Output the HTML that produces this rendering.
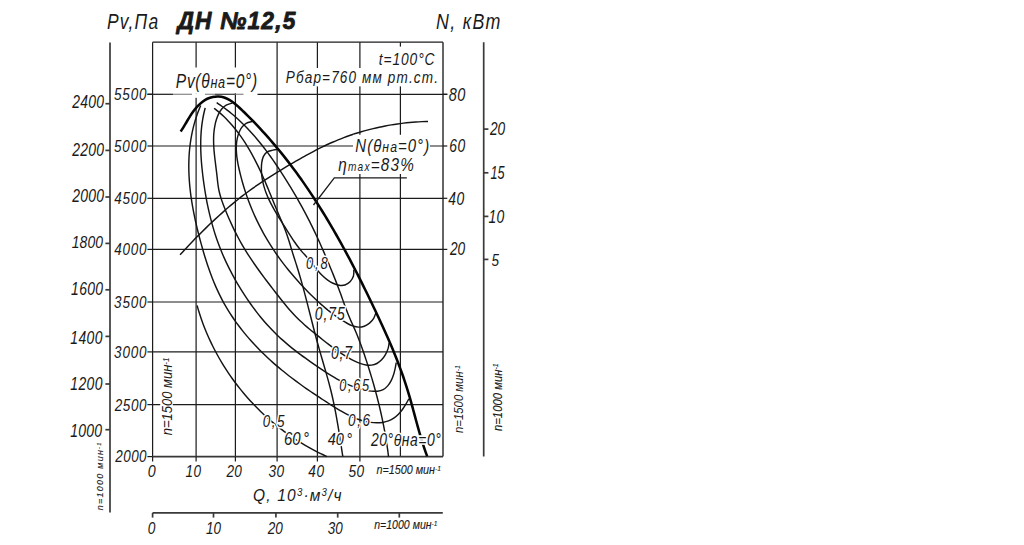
<!DOCTYPE html>
<html><head><meta charset="utf-8"><style>
html,body{margin:0;padding:0;background:#fff;width:1024px;height:545px;overflow:hidden}
svg{display:block}
text{font-family:"Liberation Sans", sans-serif;font-style:italic;fill:#1a1a1a}
</style></head><body>
<svg width="1024" height="545" viewBox="0 0 1024 545">
<g stroke="#1c1c1c" stroke-width="1.22" fill="none"><line x1="152.6" y1="42.2" x2="152.6" y2="456.6"/><line x1="196.1" y1="42.2" x2="196.1" y2="456.6"/><line x1="235.4" y1="42.2" x2="235.4" y2="456.6"/><line x1="277.1" y1="42.2" x2="277.1" y2="456.6"/><line x1="317.4" y1="42.2" x2="317.4" y2="456.6"/><line x1="359.9" y1="42.2" x2="359.9" y2="456.6"/><line x1="400.4" y1="42.2" x2="400.4" y2="456.6"/><line x1="443.0" y1="42.2" x2="443.0" y2="456.6" stroke="#383838" stroke-width="1.55"/><line x1="152.6" y1="42.2" x2="443.0" y2="42.2"/><line x1="152.6" y1="146.0" x2="443.0" y2="146.0"/><line x1="152.6" y1="198.3" x2="443.0" y2="198.3"/><line x1="152.6" y1="249.4" x2="443.0" y2="249.4"/><line x1="152.6" y1="302.0" x2="443.0" y2="302.0"/><line x1="152.6" y1="351.9" x2="443.0" y2="351.9"/><line x1="152.6" y1="404.6" x2="443.0" y2="404.6"/><line x1="152.6" y1="456.6" x2="443.0" y2="456.6" stroke="#383838" stroke-width="1.6"/><line x1="152.6" y1="456.6" x2="152.6" y2="461.5"/><line x1="196.1" y1="456.6" x2="196.1" y2="461.5"/><line x1="235.4" y1="456.6" x2="235.4" y2="461.5"/><line x1="277.1" y1="456.6" x2="277.1" y2="461.5"/><line x1="317.4" y1="456.6" x2="317.4" y2="461.5"/><line x1="359.9" y1="456.6" x2="359.9" y2="461.5"/><line x1="147.4" y1="94.3" x2="152.6" y2="94.3"/><line x1="147.4" y1="146.0" x2="152.6" y2="146.0"/><line x1="147.4" y1="198.3" x2="152.6" y2="198.3"/><line x1="147.4" y1="249.4" x2="152.6" y2="249.4"/><line x1="147.4" y1="302.0" x2="152.6" y2="302.0"/><line x1="147.4" y1="351.9" x2="152.6" y2="351.9"/><line x1="147.4" y1="404.6" x2="152.6" y2="404.6"/><line x1="147.4" y1="456.6" x2="152.6" y2="456.6"/><line x1="443.0" y1="94.3" x2="447.3" y2="94.3"/><line x1="443.0" y1="146.0" x2="447.3" y2="146.0"/><line x1="443.0" y1="198.3" x2="447.3" y2="198.3"/><line x1="443.0" y1="249.4" x2="447.3" y2="249.4"/></g>
<g stroke="#3a3a3a" stroke-width="1.7" fill="none"><line x1="110" y1="42.4" x2="110" y2="512.4"/><line x1="105.4" y1="103.7" x2="110" y2="103.7"/><line x1="105.4" y1="150.4" x2="110" y2="150.4"/><line x1="105.4" y1="197.0" x2="110" y2="197.0"/><line x1="105.4" y1="243.4" x2="110" y2="243.4"/><line x1="105.4" y1="289.8" x2="110" y2="289.8"/><line x1="105.4" y1="336.4" x2="110" y2="336.4"/><line x1="105.4" y1="384.0" x2="110" y2="384.0"/><line x1="105.4" y1="429.7" x2="110" y2="429.7"/><line x1="483.7" y1="42.2" x2="483.7" y2="456.6"/><line x1="483.7" y1="129.1" x2="488.4" y2="129.1"/><line x1="483.7" y1="172.8" x2="488.4" y2="172.8"/><line x1="483.7" y1="216.4" x2="488.4" y2="216.4"/><line x1="483.7" y1="259.4" x2="488.4" y2="259.4"/><line x1="152.6" y1="512.9" x2="442.8" y2="512.9"/><line x1="152.6" y1="512.9" x2="152.6" y2="517.6"/><line x1="213.5" y1="512.9" x2="213.5" y2="517.6"/><line x1="275.9" y1="512.9" x2="275.9" y2="517.6"/><line x1="337.7" y1="512.9" x2="337.7" y2="517.6"/><line x1="399.3" y1="512.9" x2="399.3" y2="517.6"/></g>
<g stroke="#141414" stroke-width="1.45" fill="none"><path d="M180.04,254.76 C180.74,254.01 182.83,251.75 184.24,250.24 C185.64,248.74 187.05,247.24 188.47,245.75 C189.88,244.26 191.31,242.77 192.73,241.29 C194.16,239.81 195.59,238.33 197.04,236.86 C198.48,235.39 199.92,233.93 201.38,232.47 C202.83,231.02 204.29,229.57 205.76,228.13 C207.23,226.70 208.71,225.27 210.20,223.85 C211.68,222.43 213.18,221.01 214.68,219.61 C216.18,218.21 217.69,216.82 219.21,215.44 C220.73,214.06 222.26,212.69 223.80,211.34 C225.34,209.98 226.89,208.64 228.45,207.30 C230.01,205.97 231.57,204.65 233.15,203.35 C234.73,202.04 236.32,200.75 237.92,199.47 C239.52,198.20 241.14,196.93 242.76,195.69 C244.38,194.44 246.02,193.21 247.66,191.99 C249.31,190.78 250.97,189.58 252.64,188.39 C254.31,187.21 255.99,186.04 257.69,184.89 C259.38,183.73 261.08,182.60 262.79,181.47 C264.50,180.34 266.22,179.22 267.95,178.11 C269.67,177.00 271.41,175.90 273.14,174.81 C274.88,173.72 276.63,172.64 278.38,171.56 C280.13,170.49 281.88,169.42 283.65,168.36 C285.41,167.30 287.17,166.25 288.94,165.21 C290.72,164.16 292.49,163.13 294.27,162.10 C296.05,161.07 297.84,160.05 299.62,159.04 C301.41,158.02 303.20,157.02 305.00,156.02 C306.80,155.03 308.60,154.04 310.41,153.07 C312.22,152.10 314.03,151.14 315.85,150.19 C317.67,149.25 319.50,148.32 321.33,147.42 C323.17,146.51 325.01,145.62 326.87,144.76 C328.72,143.89 330.59,143.05 332.46,142.23 C334.33,141.41 336.21,140.61 338.10,139.84 C339.99,139.07 341.90,138.32 343.81,137.59 C345.72,136.87 347.64,136.17 349.57,135.50 C351.50,134.83 353.44,134.18 355.39,133.56 C357.35,132.94 359.31,132.35 361.27,131.78 C363.24,131.21 365.22,130.66 367.20,130.14 C369.19,129.61 371.18,129.11 373.18,128.63 C375.17,128.14 377.18,127.68 379.19,127.24 C381.19,126.80 383.21,126.39 385.23,125.99 C387.24,125.60 389.27,125.23 391.29,124.89 C393.32,124.54 395.35,124.22 397.38,123.92 C399.42,123.62 401.45,123.35 403.49,123.11 C405.53,122.86 407.57,122.64 409.61,122.45 C411.65,122.25 413.69,122.09 415.74,121.95 C417.78,121.81 419.82,121.70 421.86,121.61 C423.91,121.53 426.97,121.48 427.99,121.45"/><path d="M200.71,105.47 C200.31,106.44 199.07,109.36 198.33,111.32 C197.59,113.27 196.90,115.23 196.25,117.20 C195.60,119.16 195.00,121.13 194.44,123.11 C193.89,125.09 193.38,127.07 192.91,129.05 C192.45,131.04 192.02,133.03 191.64,135.03 C191.26,137.02 190.92,139.02 190.62,141.02 C190.32,143.02 190.06,145.03 189.83,147.04 C189.61,149.04 189.43,151.05 189.28,153.07 C189.13,155.08 189.02,157.10 188.94,159.12 C188.86,161.13 188.82,163.15 188.81,165.18 C188.79,167.20 188.82,169.22 188.87,171.24 C188.92,173.27 189.01,175.29 189.12,177.32 C189.23,179.34 189.38,181.37 189.55,183.39 C189.71,185.42 189.91,187.45 190.14,189.47 C190.36,191.50 190.61,193.52 190.88,195.54 C191.15,197.57 191.45,199.59 191.77,201.61 C192.08,203.63 192.43,205.65 192.79,207.67 C193.15,209.69 193.53,211.70 193.93,213.72 C194.33,215.73 194.75,217.74 195.18,219.75 C195.62,221.75 196.07,223.76 196.54,225.76 C197.01,227.76 197.49,229.76 197.99,231.75 C198.48,233.74 198.99,235.73 199.51,237.72 C200.03,239.70 200.56,241.68 201.11,243.66 C201.65,245.63 202.20,247.60 202.77,249.57 C203.33,251.53 203.91,253.49 204.50,255.44 C205.09,257.39 205.70,259.34 206.32,261.27 C206.94,263.21 207.58,265.14 208.24,267.06 C208.90,268.98 209.57,270.89 210.27,272.80 C210.97,274.70 211.68,276.59 212.42,278.48 C213.16,280.36 213.92,282.24 214.71,284.10 C215.50,285.96 216.31,287.81 217.15,289.65 C217.99,291.49 218.86,293.32 219.75,295.13 C220.65,296.95 221.57,298.75 222.53,300.54 C223.48,302.33 224.47,304.11 225.49,305.87 C226.50,307.63 227.55,309.38 228.63,311.11 C229.71,312.84 230.82,314.56 231.95,316.26 C233.08,317.96 234.24,319.65 235.43,321.32 C236.62,322.99 237.83,324.64 239.07,326.28 C240.30,327.92 241.56,329.54 242.84,331.14 C244.13,332.75 245.43,334.33 246.75,335.90 C248.08,337.47 249.42,339.02 250.79,340.56 C252.15,342.09 253.53,343.60 254.93,345.10 C256.33,346.59 257.74,348.07 259.17,349.53 C260.60,350.98 262.05,352.42 263.51,353.84 C264.97,355.26 266.44,356.66 267.93,358.04 C269.42,359.42 270.92,360.78 272.43,362.12 C273.94,363.47 275.47,364.80 277.01,366.11 C278.54,367.42 280.10,368.72 281.66,370.00 C283.22,371.28 284.80,372.55 286.38,373.80 C287.97,375.06 289.56,376.30 291.17,377.53 C292.78,378.75 294.40,379.97 296.03,381.18 C297.66,382.38 299.30,383.57 300.95,384.76 C302.60,385.94 304.26,387.12 305.93,388.28 C307.60,389.45 309.28,390.61 310.96,391.76 C312.65,392.91 314.35,394.05 316.05,395.18 C317.75,396.32 319.47,397.45 321.19,398.57 C322.91,399.70 324.64,400.82 326.37,401.93 C328.11,403.05 329.85,404.16 331.60,405.27 C333.35,406.37 335.11,407.48 336.88,408.56 C338.65,409.64 340.43,410.71 342.22,411.73 C344.01,412.74 345.82,413.74 347.64,414.67 C349.47,415.60 351.31,416.50 353.17,417.31 C355.03,418.12 356.91,418.87 358.81,419.53 C360.72,420.19 362.64,420.78 364.59,421.26 C366.55,421.74 368.53,422.13 370.54,422.40 C372.54,422.66 374.60,422.83 376.63,422.84 C378.66,422.84 380.73,422.73 382.71,422.42 C384.69,422.10 386.67,421.64 388.52,420.94 C390.36,420.24 392.14,419.33 393.79,418.22 C395.44,417.11 396.97,415.74 398.41,414.29 C399.85,412.83 401.17,411.17 402.42,409.49 C403.66,407.81 404.81,405.99 405.88,404.22 C406.96,402.44 408.37,399.72 408.87,398.83"/><path d="M205.19,107.94 C204.94,108.95 204.16,111.98 203.72,114.01 C203.29,116.03 202.91,118.06 202.58,120.09 C202.24,122.12 201.96,124.16 201.72,126.20 C201.49,128.24 201.30,130.28 201.14,132.32 C200.99,134.37 200.89,136.42 200.81,138.46 C200.74,140.51 200.71,142.56 200.71,144.62 C200.71,146.67 200.75,148.72 200.81,150.78 C200.87,152.83 200.97,154.89 201.09,156.95 C201.21,159.00 201.36,161.06 201.53,163.12 C201.70,165.17 201.90,167.23 202.11,169.29 C202.32,171.34 202.56,173.40 202.80,175.46 C203.05,177.51 203.31,179.57 203.59,181.62 C203.87,183.67 204.16,185.72 204.47,187.77 C204.79,189.82 205.12,191.86 205.46,193.90 C205.81,195.95 206.17,197.99 206.56,200.02 C206.94,202.05 207.34,204.08 207.77,206.11 C208.19,208.13 208.63,210.15 209.10,212.16 C209.56,214.18 210.04,216.18 210.55,218.18 C211.06,220.18 211.58,222.18 212.13,224.16 C212.68,226.14 213.26,228.12 213.85,230.09 C214.45,232.06 215.07,234.02 215.71,235.97 C216.35,237.92 217.02,239.86 217.72,241.79 C218.41,243.72 219.13,245.64 219.87,247.55 C220.62,249.46 221.39,251.35 222.18,253.24 C222.97,255.13 223.79,257.01 224.63,258.87 C225.47,260.74 226.34,262.60 227.23,264.44 C228.12,266.29 229.03,268.13 229.96,269.95 C230.90,271.78 231.86,273.60 232.84,275.40 C233.81,277.21 234.82,279.01 235.84,280.79 C236.86,282.58 237.90,284.36 238.97,286.12 C240.03,287.89 241.12,289.65 242.22,291.40 C243.33,293.15 244.45,294.89 245.60,296.61 C246.74,298.34 247.91,300.06 249.09,301.76 C250.28,303.47 251.49,305.16 252.71,306.83 C253.94,308.51 255.18,310.17 256.45,311.82 C257.72,313.46 259.00,315.09 260.31,316.70 C261.62,318.30 262.95,319.89 264.30,321.46 C265.65,323.03 267.02,324.58 268.41,326.10 C269.80,327.62 271.21,329.12 272.65,330.60 C274.08,332.07 275.53,333.52 277.01,334.94 C278.48,336.36 279.98,337.76 281.50,339.13 C283.01,340.50 284.55,341.84 286.10,343.17 C287.66,344.49 289.23,345.79 290.82,347.08 C292.41,348.36 294.01,349.63 295.63,350.88 C297.25,352.13 298.89,353.36 300.53,354.58 C302.18,355.81 303.84,357.01 305.51,358.21 C307.18,359.41 308.87,360.60 310.56,361.79 C312.25,362.97 313.96,364.14 315.67,365.32 C317.38,366.49 319.09,367.66 320.82,368.82 C322.55,369.98 324.28,371.14 326.03,372.27 C327.78,373.40 329.54,374.52 331.31,375.60 C333.09,376.68 334.87,377.75 336.68,378.77 C338.48,379.78 340.30,380.77 342.14,381.71 C343.98,382.64 345.84,383.54 347.72,384.37 C349.60,385.20 351.50,385.98 353.42,386.69 C355.34,387.40 357.29,388.06 359.26,388.63 C361.23,389.20 363.23,389.71 365.26,390.12 C367.28,390.54 369.37,390.93 371.41,391.11 C373.46,391.29 375.58,391.46 377.53,391.21 C379.48,390.96 381.40,390.49 383.10,389.60 C384.79,388.71 386.35,387.38 387.70,385.87 C389.04,384.37 390.18,382.48 391.17,380.57 C392.16,378.66 392.95,376.48 393.62,374.41 C394.30,372.34 394.81,370.12 395.24,368.14 C395.67,366.16 396.04,363.46 396.20,362.53"/><path d="M232.32,102.99 C231.30,103.34 227.97,104.13 226.20,105.13 C224.43,106.14 222.98,107.52 221.70,109.02 C220.42,110.52 219.41,112.30 218.51,114.11 C217.61,115.91 216.93,117.90 216.32,119.84 C215.71,121.79 215.25,123.78 214.86,125.77 C214.47,127.76 214.19,129.77 213.99,131.78 C213.78,133.80 213.67,135.82 213.62,137.86 C213.56,139.89 213.59,141.93 213.66,143.97 C213.73,146.01 213.86,148.07 214.02,150.12 C214.18,152.16 214.39,154.22 214.62,156.27 C214.84,158.32 215.09,160.37 215.35,162.42 C215.60,164.46 215.87,166.51 216.12,168.54 C216.38,170.57 216.63,172.60 216.86,174.62 C217.09,176.64 217.27,178.65 217.50,180.65 C217.73,182.65 217.94,184.64 218.26,186.62 C218.58,188.60 218.95,190.57 219.42,192.54 C219.90,194.50 220.47,196.46 221.09,198.40 C221.71,200.35 222.41,202.29 223.13,204.22 C223.85,206.14 224.62,208.06 225.39,209.97 C226.16,211.88 226.95,213.78 227.75,215.66 C228.55,217.55 229.37,219.42 230.20,221.29 C231.04,223.15 231.89,225.00 232.76,226.85 C233.63,228.69 234.52,230.52 235.44,232.33 C236.35,234.15 237.28,235.95 238.24,237.75 C239.19,239.54 240.17,241.32 241.17,243.09 C242.18,244.85 243.20,246.61 244.25,248.35 C245.30,250.09 246.37,251.82 247.46,253.54 C248.55,255.26 249.67,256.97 250.79,258.67 C251.92,260.37 253.07,262.06 254.22,263.74 C255.38,265.42 256.56,267.09 257.74,268.75 C258.93,270.41 260.13,272.07 261.34,273.71 C262.55,275.36 263.77,277.00 264.99,278.64 C266.22,280.27 267.45,281.90 268.69,283.52 C269.92,285.15 271.17,286.76 272.41,288.38 C273.66,289.99 274.91,291.60 276.15,293.21 C277.40,294.81 278.65,296.42 279.90,298.01 C281.16,299.60 282.42,301.19 283.70,302.77 C284.97,304.34 286.26,305.91 287.57,307.45 C288.88,309.00 290.21,310.53 291.56,312.04 C292.92,313.54 294.30,315.03 295.72,316.49 C297.14,317.95 298.59,319.39 300.08,320.80 C301.56,322.21 303.10,323.58 304.65,324.94 C306.20,326.29 307.78,327.62 309.37,328.94 C310.95,330.25 312.56,331.55 314.14,332.83 C315.73,334.12 317.32,335.40 318.90,336.67 C320.48,337.94 322.04,339.20 323.61,340.45 C325.18,341.70 326.74,342.94 328.33,344.16 C329.91,345.38 331.49,346.59 333.11,347.78 C334.73,348.97 336.36,350.14 338.03,351.29 C339.71,352.44 341.40,353.57 343.15,354.67 C344.90,355.77 346.69,356.85 348.53,357.89 C350.37,358.93 352.28,359.98 354.21,360.90 C356.13,361.82 358.11,362.72 360.07,363.39 C362.02,364.07 364.01,364.65 365.93,364.94 C367.85,365.23 369.77,365.36 371.60,365.12 C373.43,364.88 375.22,364.39 376.89,363.50 C378.56,362.62 380.18,361.30 381.61,359.81 C383.03,358.32 384.37,356.43 385.44,354.57 C386.52,352.71 387.45,350.59 388.06,348.64 C388.68,346.69 388.95,343.84 389.13,342.88"/><path d="M252.50,121.43 C251.44,121.75 247.92,122.31 246.12,123.31 C244.33,124.31 242.95,125.83 241.75,127.42 C240.55,129.00 239.67,130.95 238.92,132.83 C238.17,134.71 237.64,136.72 237.22,138.70 C236.80,140.69 236.56,142.70 236.41,144.73 C236.27,146.76 236.27,148.81 236.35,150.86 C236.43,152.92 236.63,155.00 236.89,157.07 C237.14,159.14 237.50,161.22 237.88,163.29 C238.26,165.36 238.72,167.44 239.19,169.49 C239.65,171.55 240.15,173.60 240.67,175.63 C241.19,177.67 241.74,179.69 242.30,181.70 C242.87,183.71 243.46,185.71 244.08,187.70 C244.69,189.68 245.33,191.66 245.99,193.62 C246.66,195.58 247.34,197.53 248.05,199.47 C248.76,201.41 249.50,203.33 250.25,205.24 C251.01,207.16 251.79,209.06 252.60,210.95 C253.40,212.84 254.23,214.72 255.08,216.58 C255.93,218.45 256.81,220.30 257.71,222.14 C258.60,223.99 259.53,225.82 260.47,227.64 C261.42,229.45 262.39,231.26 263.38,233.05 C264.37,234.85 265.39,236.63 266.43,238.40 C267.47,240.17 268.53,241.93 269.62,243.68 C270.71,245.43 271.82,247.16 272.95,248.89 C274.08,250.61 275.24,252.32 276.42,254.02 C277.60,255.72 278.81,257.41 280.03,259.09 C281.26,260.77 282.50,262.43 283.77,264.08 C285.04,265.73 286.32,267.37 287.63,269.00 C288.93,270.62 290.26,272.23 291.60,273.83 C292.94,275.42 294.29,277.00 295.66,278.57 C297.04,280.13 298.42,281.68 299.82,283.22 C301.22,284.75 302.63,286.27 304.05,287.77 C305.47,289.27 306.91,290.76 308.35,292.22 C309.79,293.69 311.24,295.14 312.71,296.57 C314.17,298.00 315.65,299.41 317.14,300.80 C318.64,302.19 320.15,303.56 321.69,304.91 C323.23,306.26 324.78,307.58 326.37,308.89 C327.96,310.19 329.57,311.47 331.21,312.72 C332.86,313.97 334.54,315.20 336.25,316.40 C337.97,317.60 339.72,318.79 341.51,319.93 C343.31,321.07 345.15,322.25 347.02,323.25 C348.89,324.25 350.81,325.26 352.72,325.91 C354.64,326.55 356.59,327.08 358.51,327.13 C360.43,327.18 362.42,326.88 364.26,326.21 C366.09,325.55 367.95,324.46 369.52,323.14 C371.09,321.82 372.58,320.14 373.69,318.30 C374.79,316.46 375.72,313.14 376.13,312.11"/><path d="M279.03,149.03 C277.99,149.22 274.86,149.64 272.82,150.15 C270.78,150.66 268.40,150.99 266.81,152.08 C265.23,153.17 264.17,154.90 263.32,156.67 C262.48,158.44 262.07,160.62 261.75,162.71 C261.42,164.80 261.36,167.06 261.37,169.22 C261.38,171.38 261.55,173.56 261.79,175.67 C262.04,177.78 262.39,179.84 262.82,181.88 C263.26,183.92 263.79,185.92 264.39,187.89 C264.99,189.87 265.68,191.81 266.43,193.73 C267.17,195.65 267.99,197.54 268.86,199.41 C269.72,201.28 270.66,203.13 271.62,204.96 C272.58,206.80 273.60,208.61 274.64,210.42 C275.68,212.23 276.76,214.02 277.85,215.80 C278.94,217.59 280.06,219.36 281.18,221.14 C282.30,222.92 283.44,224.68 284.56,226.46 C285.69,228.23 286.80,230.01 287.93,231.78 C289.05,233.55 290.16,235.32 291.29,237.07 C292.43,238.82 293.57,240.57 294.75,242.28 C295.93,243.98 297.13,245.67 298.39,247.31 C299.66,248.95 300.97,250.54 302.32,252.10 C303.66,253.67 305.11,255.15 306.47,256.71 C307.83,258.27 309.16,259.86 310.47,261.47 C311.78,263.08 313.02,264.76 314.32,266.38 C315.62,268.01 316.90,269.66 318.27,271.23 C319.64,272.80 321.03,274.36 322.55,275.81 C324.06,277.25 325.65,278.65 327.39,279.88 C329.13,281.12 331.04,282.33 332.98,283.22 C334.92,284.11 337.04,284.90 339.03,285.20 C341.02,285.50 343.08,285.56 344.92,284.99 C346.75,284.43 348.61,283.29 350.04,281.79 C351.46,280.28 352.84,277.96 353.46,275.96 C354.08,273.96 353.73,270.83 353.78,269.80"/><path d="M214.11,108.23 C214.93,108.89 217.40,110.82 218.98,112.17 C220.56,113.52 222.09,114.91 223.59,116.33 C225.08,117.75 226.54,119.21 227.95,120.70 C229.37,122.19 230.75,123.71 232.09,125.26 C233.43,126.82 234.74,128.40 236.01,130.01 C237.28,131.61 238.52,133.25 239.72,134.91 C240.93,136.57 242.10,138.26 243.24,139.96 C244.39,141.67 245.50,143.40 246.59,145.15 C247.67,146.90 248.73,148.67 249.76,150.45 C250.80,152.24 251.80,154.04 252.79,155.86 C253.77,157.67 254.73,159.51 255.67,161.35 C256.61,163.19 257.53,165.05 258.43,166.91 C259.33,168.78 260.20,170.65 261.07,172.53 C261.93,174.41 262.78,176.30 263.61,178.20 C264.44,180.09 265.25,181.98 266.06,183.88 C266.87,185.78 267.65,187.68 268.44,189.58 C269.23,191.48 270.00,193.39 270.78,195.29 C271.56,197.19 272.33,199.10 273.10,201.00 C273.88,202.90 274.65,204.80 275.44,206.69 C276.22,208.59 277.01,210.49 277.81,212.38 C278.61,214.27 279.43,216.15 280.24,218.04 C281.06,219.92 281.90,221.80 282.69,223.69 C283.49,225.59 284.28,227.48 285.02,229.39 C285.76,231.31 286.45,233.24 287.11,235.18 C287.78,237.12 288.39,239.08 289.01,241.04 C289.63,243.00 290.21,244.97 290.81,246.94 C291.41,248.91 292.01,250.88 292.62,252.85 C293.23,254.82 293.86,256.78 294.48,258.75 C295.11,260.71 295.75,262.68 296.37,264.64 C296.99,266.61 297.61,268.58 298.22,270.55 C298.82,272.52 299.41,274.50 299.99,276.48 C300.57,278.45 301.14,280.43 301.70,282.42 C302.26,284.40 302.80,286.39 303.35,288.38 C303.89,290.36 304.42,292.35 304.95,294.35 C305.47,296.34 305.99,298.33 306.51,300.32 C307.02,302.32 307.53,304.31 308.04,306.31 C308.55,308.31 309.06,310.30 309.56,312.30 C310.07,314.29 310.57,316.29 311.08,318.29 C311.59,320.28 312.09,322.28 312.60,324.28 C313.11,326.27 313.62,328.27 314.14,330.26 C314.66,332.25 315.18,334.25 315.71,336.24 C316.24,338.23 316.77,340.22 317.31,342.20 C317.86,344.19 318.41,346.17 318.97,348.16 C319.52,350.14 320.09,352.12 320.66,354.10 C321.24,356.08 321.81,358.05 322.39,360.03 C322.97,362.01 323.55,363.99 324.12,365.96 C324.70,367.94 325.27,369.92 325.84,371.90 C326.40,373.88 326.96,375.86 327.52,377.84 C328.07,379.83 328.61,381.81 329.14,383.80 C329.66,385.79 330.18,387.78 330.68,389.78 C331.18,391.78 331.66,393.78 332.12,395.78 C332.59,397.79 333.03,399.80 333.47,401.81 C333.90,403.83 334.31,405.84 334.71,407.86 C335.12,409.88 335.51,411.91 335.88,413.93 C336.26,415.96 336.63,417.98 336.98,420.01 C337.34,422.04 337.69,424.08 338.03,426.11 C338.37,428.14 338.70,430.18 339.03,432.21 C339.36,434.25 339.68,436.28 340.00,438.32 C340.32,440.35 340.63,442.39 340.95,444.42 C341.26,446.46 341.57,448.49 341.89,450.53 C342.20,452.56 342.68,455.61 342.83,456.62"/><path d="M216.66,102.71 C217.52,103.30 220.14,105.02 221.84,106.22 C223.54,107.42 225.21,108.65 226.85,109.91 C228.50,111.17 230.11,112.46 231.70,113.77 C233.29,115.08 234.85,116.43 236.39,117.79 C237.93,119.16 239.44,120.55 240.93,121.96 C242.42,123.38 243.88,124.82 245.32,126.28 C246.76,127.74 248.18,129.22 249.58,130.72 C250.98,132.23 252.35,133.75 253.71,135.29 C255.07,136.83 256.40,138.39 257.72,139.97 C259.04,141.55 260.33,143.14 261.62,144.75 C262.90,146.36 264.16,147.99 265.41,149.63 C266.65,151.27 267.88,152.92 269.10,154.59 C270.31,156.26 271.51,157.94 272.70,159.62 C273.88,161.31 275.05,163.01 276.21,164.72 C277.37,166.43 278.52,168.15 279.65,169.87 C280.78,171.60 281.91,173.33 283.02,175.07 C284.13,176.81 285.24,178.55 286.33,180.30 C287.42,182.05 288.50,183.80 289.58,185.56 C290.65,187.32 291.71,189.09 292.76,190.86 C293.82,192.63 294.86,194.41 295.89,196.19 C296.92,197.97 297.94,199.76 298.95,201.55 C299.96,203.34 300.96,205.14 301.95,206.95 C302.94,208.75 303.91,210.56 304.88,212.37 C305.85,214.19 306.80,216.01 307.75,217.84 C308.69,219.66 309.62,221.50 310.54,223.34 C311.47,225.17 312.38,227.02 313.27,228.87 C314.17,230.72 315.06,232.58 315.93,234.44 C316.81,236.30 317.67,238.17 318.52,240.04 C319.38,241.92 320.22,243.80 321.05,245.68 C321.88,247.56 322.71,249.45 323.52,251.34 C324.34,253.23 325.15,255.12 325.95,257.02 C326.76,258.92 327.55,260.82 328.35,262.72 C329.14,264.62 329.93,266.52 330.72,268.42 C331.50,270.33 332.28,272.23 333.05,274.14 C333.82,276.05 334.58,277.96 335.34,279.87 C336.09,281.79 336.84,283.71 337.57,285.63 C338.30,287.55 339.03,289.48 339.74,291.41 C340.44,293.34 341.14,295.28 341.83,297.21 C342.52,299.15 343.20,301.09 343.89,303.03 C344.59,304.96 345.28,306.89 346.00,308.82 C346.73,310.74 347.46,312.66 348.23,314.56 C349.00,316.46 349.82,318.34 350.64,320.22 C351.47,322.10 352.34,323.96 353.18,325.83 C354.02,327.70 354.87,329.57 355.67,331.46 C356.48,333.35 357.26,335.25 358.01,337.15 C358.77,339.06 359.50,340.98 360.21,342.90 C360.93,344.83 361.62,346.76 362.31,348.70 C362.99,350.64 363.66,352.59 364.32,354.54 C364.98,356.48 365.63,358.44 366.28,360.39 C366.92,362.35 367.55,364.31 368.18,366.27 C368.80,368.24 369.42,370.21 370.03,372.18 C370.63,374.15 371.23,376.12 371.82,378.10 C372.40,380.08 372.98,382.06 373.54,384.04 C374.11,386.02 374.66,388.01 375.21,390.00 C375.75,391.99 376.28,393.98 376.80,395.98 C377.33,397.98 377.83,399.98 378.33,401.98 C378.83,403.98 379.32,405.98 379.79,407.99 C380.26,410.00 380.72,412.00 381.17,414.02 C381.62,416.03 382.05,418.04 382.47,420.06 C382.90,422.07 383.30,424.09 383.70,426.11 C384.09,428.13 384.47,430.16 384.84,432.18 C385.21,434.21 385.56,436.23 385.90,438.26 C386.24,440.29 386.56,442.32 386.87,444.35 C387.18,446.39 387.47,448.42 387.75,450.46 C388.02,452.49 388.40,455.55 388.53,456.57"/><path d="M197.11,305.58 C197.41,306.58 198.26,309.58 198.88,311.57 C199.49,313.56 200.14,315.54 200.80,317.51 C201.47,319.48 202.17,321.44 202.89,323.39 C203.62,325.34 204.36,327.28 205.14,329.20 C205.91,331.13 206.72,333.05 207.54,334.96 C208.37,336.86 209.22,338.76 210.10,340.64 C210.97,342.52 211.87,344.39 212.80,346.25 C213.73,348.11 214.68,349.95 215.65,351.78 C216.63,353.62 217.62,355.43 218.65,357.24 C219.67,359.05 220.72,360.84 221.78,362.62 C222.85,364.39 223.95,366.16 225.06,367.91 C226.18,369.66 227.31,371.39 228.47,373.11 C229.63,374.83 230.82,376.54 232.02,378.22 C233.23,379.91 234.45,381.59 235.70,383.24 C236.95,384.90 238.22,386.54 239.51,388.17 C240.80,389.79 242.11,391.40 243.44,392.99 C244.77,394.58 246.12,396.15 247.50,397.71 C248.87,399.26 250.26,400.80 251.67,402.32 C253.08,403.84 254.51,405.34 255.97,406.82 C257.42,408.30 258.89,409.77 260.37,411.21 C261.86,412.65 263.37,414.08 264.90,415.48 C266.42,416.89 267.97,418.27 269.53,419.64 C271.09,421.00 272.67,422.34 274.26,423.67 C275.86,424.99 277.48,426.29 279.11,427.57 C280.74,428.85 282.39,430.11 284.05,431.35 C285.72,432.59 287.40,433.80 289.09,434.99 C290.79,436.19 292.51,437.36 294.23,438.50 C295.96,439.65 297.71,440.78 299.47,441.88 C301.23,442.98 303.00,444.05 304.79,445.11 C306.58,446.16 308.39,447.19 310.20,448.19 C312.02,449.20 313.86,450.18 315.70,451.13 C317.55,452.08 319.41,453.01 321.28,453.92 C323.16,454.82 326.00,456.11 326.95,456.55"/></g>
<path d="M180.68,131.51 C181.17,130.74 182.67,128.51 183.67,126.88 C184.68,125.25 185.66,123.49 186.71,121.74 C187.75,120.00 188.81,118.17 189.95,116.39 C191.09,114.62 192.28,112.80 193.56,111.09 C194.85,109.39 196.21,107.68 197.66,106.15 C199.11,104.62 200.64,103.15 202.25,101.92 C203.87,100.68 205.57,99.57 207.33,98.74 C209.10,97.90 210.97,97.29 212.84,96.91 C214.71,96.54 216.66,96.41 218.54,96.50 C220.42,96.60 222.33,96.93 224.14,97.48 C225.95,98.03 227.69,98.85 229.38,99.80 C231.07,100.75 232.68,101.94 234.27,103.17 C235.86,104.40 237.39,105.81 238.92,107.20 C240.44,108.58 241.93,110.04 243.42,111.48 C244.91,112.92 246.38,114.37 247.84,115.82 C249.30,117.28 250.75,118.74 252.19,120.21 C253.62,121.68 255.05,123.16 256.46,124.64 C257.87,126.13 259.27,127.62 260.65,129.12 C262.04,130.62 263.41,132.13 264.78,133.64 C266.14,135.15 267.49,136.67 268.83,138.20 C270.17,139.73 271.50,141.27 272.82,142.81 C274.14,144.35 275.44,145.90 276.74,147.46 C278.03,149.01 279.32,150.58 280.59,152.15 C281.87,153.72 283.13,155.29 284.38,156.88 C285.64,158.46 286.88,160.05 288.12,161.65 C289.35,163.25 290.57,164.85 291.79,166.46 C293.00,168.07 294.21,169.69 295.40,171.31 C296.60,172.93 297.78,174.56 298.96,176.20 C300.14,177.84 301.30,179.48 302.46,181.13 C303.62,182.78 304.77,184.43 305.91,186.10 C307.06,187.76 308.19,189.43 309.31,191.10 C310.44,192.77 311.56,194.45 312.66,196.14 C313.77,197.83 314.88,199.52 315.97,201.22 C317.06,202.91 318.15,204.62 319.23,206.33 C320.30,208.04 321.37,209.75 322.44,211.47 C323.50,213.19 324.56,214.91 325.61,216.64 C326.66,218.37 327.70,220.11 328.73,221.85 C329.77,223.58 330.79,225.33 331.82,227.08 C332.84,228.82 333.85,230.58 334.86,232.33 C335.87,234.09 336.87,235.85 337.87,237.62 C338.86,239.38 339.85,241.15 340.84,242.92 C341.82,244.70 342.80,246.47 343.77,248.25 C344.74,250.03 345.71,251.82 346.67,253.60 C347.63,255.39 348.58,257.18 349.53,258.97 C350.48,260.77 351.43,262.56 352.37,264.36 C353.31,266.16 354.24,267.96 355.17,269.76 C356.10,271.57 357.02,273.37 357.94,275.18 C358.86,276.99 359.78,278.80 360.69,280.62 C361.60,282.43 362.50,284.25 363.40,286.06 C364.31,287.88 365.20,289.70 366.10,291.52 C366.99,293.34 367.88,295.16 368.77,296.98 C369.65,298.81 370.53,300.63 371.41,302.46 C372.29,304.28 373.16,306.11 374.04,307.94 C374.91,309.77 375.78,311.59 376.64,313.42 C377.50,315.25 378.36,317.09 379.22,318.92 C380.07,320.75 380.92,322.58 381.77,324.42 C382.61,326.26 383.45,328.10 384.28,329.94 C385.11,331.78 385.94,333.62 386.75,335.47 C387.57,337.31 388.38,339.16 389.18,341.01 C389.98,342.87 390.78,344.72 391.56,346.58 C392.35,348.44 393.12,350.30 393.89,352.17 C394.65,354.04 395.41,355.91 396.15,357.78 C396.89,359.66 397.63,361.54 398.35,363.42 C399.07,365.31 399.78,367.20 400.48,369.09 C401.17,370.99 401.86,372.89 402.53,374.80 C403.20,376.70 403.86,378.61 404.50,380.53 C405.15,382.45 405.78,384.38 406.39,386.31 C407.01,388.24 407.60,390.18 408.19,392.12 C408.78,394.06 409.34,396.01 409.91,397.97 C410.47,399.92 411.02,401.88 411.56,403.84 C412.10,405.80 412.64,407.77 413.17,409.74 C413.71,411.70 414.23,413.67 414.77,415.63 C415.30,417.60 415.83,419.57 416.36,421.53 C416.90,423.49 417.43,425.45 417.98,427.41 C418.53,429.37 419.08,431.32 419.64,433.27 C420.21,435.21 420.78,437.16 421.37,439.09 C421.97,441.03 422.57,442.96 423.19,444.87 C423.81,446.79 424.45,448.70 425.12,450.60 C425.78,452.50 426.83,455.32 427.17,456.27" stroke="#050505" stroke-width="2.55" fill="none" stroke-linecap="butt"/>
<polyline points="406.8,177.8 334.3,177.8 313.5,205" fill="none" stroke="#1a1a1a" stroke-width="1.3"/>
<rect x="172" y="67.5" width="86.00" height="25.80" fill="#fff"/><rect x="193.8" y="93.3" width="4.60" height="4.50" fill="#fff"/><rect x="376" y="46.6" width="64.00" height="21.40" fill="#fff"/><rect x="283" y="68" width="157.00" height="18.40" fill="#fff"/><rect x="353" y="134.8" width="77.00" height="21.20" fill="#fff"/><rect x="336" y="156" width="79.00" height="18.00" fill="#fff"/><rect x="160.2" y="356" width="12.60" height="81.00" fill="#fff"/>
<g stroke="#1c1c1c" stroke-width="1.22"><line x1="147.4" y1="94.3" x2="173" y2="94.3" stroke="#1c1c1c"/><line x1="173" y1="94.3" x2="192" y2="94.3" stroke="#8a8a8a"/><line x1="205" y1="94.3" x2="215" y2="94.3" stroke="#8a8a8a"/><line x1="215" y1="94.3" x2="235.4" y2="94.3" stroke="#3a3a3a"/><line x1="235.4" y1="94.3" x2="243.5" y2="94.3" stroke="#8a8a8a"/><line x1="257.5" y1="94.3" x2="447.3" y2="94.3" stroke="#1c1c1c"/></g>
<g><text transform="matrix(0.12963 0 0 0.16143 306.08 269.30)" font-size="100" font-weight="normal" letter-spacing="13.8" fill="#fff" stroke="#fff" stroke-width="19.8" stroke-linejoin="round">0,8</text><text transform="matrix(0.13952 0 0 0.17429 314.84 320.00)" font-size="100" font-weight="normal" letter-spacing="6.4" fill="#fff" stroke="#fff" stroke-width="18.4" stroke-linejoin="round">0,75</text><text transform="matrix(0.14094 0 0 0.17571 330.94 358.60)" font-size="100" font-weight="normal" letter-spacing="5.7" fill="#fff" stroke="#fff" stroke-width="18.2" stroke-linejoin="round">0,7</text><text transform="matrix(0.12795 0 0 0.16000 339.29 390.80)" font-size="100" font-weight="normal" letter-spacing="12.6" fill="#fff" stroke="#fff" stroke-width="20.0" stroke-linejoin="round">0,65</text><text transform="matrix(0.13544 0 0 0.16857 348.06 426.00)" font-size="100" font-weight="normal" letter-spacing="11.8" fill="#fff" stroke="#fff" stroke-width="19.0" stroke-linejoin="round">0,6</text><text transform="matrix(0.13462 0 0 0.16857 262.86 426.80)" font-size="100" font-weight="normal" letter-spacing="10.4" fill="#fff" stroke="#fff" stroke-width="19.0" stroke-linejoin="round">0,5</text><text transform="matrix(0.15031 0 0 0.17429 284.00 444.90)" font-size="100" font-weight="normal" fill="#fff" stroke="#fff" stroke-width="18.4" stroke-linejoin="round">60<tspan dx="16">°</tspan></text><text transform="matrix(0.14573 0 0 0.16000 327.75 444.90)" font-size="100" font-weight="normal" fill="#fff" stroke="#fff" stroke-width="20.0" stroke-linejoin="round">40<tspan dx="16">°</tspan></text><text transform="matrix(0.13940 0 0 0.17429 370.94 446.00)" font-size="100" font-weight="normal" letter-spacing="3.9" fill="#fff" stroke="#fff" stroke-width="18.4" stroke-linejoin="round">20°θна=0°</text></g><g><text transform="matrix(0.17431 0 0 0.21739 106.88 28.80)" font-size="100" font-weight="normal" letter-spacing="7.4">Pv,Па</text><text transform="matrix(0.22727 0 0 0.24203 177.39 29.00)" font-size="100" font-weight="bold" letter-spacing="5.4" stroke="#1a1a1a" stroke-width="3.7" stroke-linejoin="round">ДН №12,5</text><text transform="matrix(0.17847 0 0 0.22319 436.06 29.10)" font-size="100" font-weight="normal" letter-spacing="7.2">N, кВm</text><text transform="matrix(0.15504 0 0 0.19420 175.83 87.60)" font-size="100" font-weight="normal" letter-spacing="4.7">Pv(θ<tspan font-size="0.82em">на</tspan>=0°)</text><text transform="matrix(0.13806 0 0 0.17246 378.65 64.50)" font-size="100" font-weight="normal" letter-spacing="6.7">t=100°C</text><text transform="matrix(0.13559 0 0 0.16957 285.79 82.50)" font-size="100" font-weight="normal" letter-spacing="8.4">Pбap=760 мм pm.cm.</text><text transform="matrix(0.14948 0 0 0.18696 355.35 151.50)" font-size="100" font-weight="normal" letter-spacing="7.0">N(θ<tspan font-size="0.82em">на</tspan>=0°)</text><text transform="matrix(0.15287 0 0 0.19143 338.29 170.80)" font-size="100" font-weight="normal" letter-spacing="7.9">η<tspan font-size="0.66em">max</tspan>=83%</text><text transform="matrix(0.15524 0 0 0.17246 253.12 500.70)" font-size="100" font-weight="normal" letter-spacing="7.5">Q, 10<tspan font-size="0.62em" dy="-0.45em">3</tspan><tspan dy="0.28em">·м</tspan><tspan font-size="0.62em" dy="-0.45em">3</tspan><tspan dy="0.28em">/ч</tspan></text><text transform="matrix(0.13515 0 0 0.16857 113.93 100.20)" font-size="100" font-weight="normal" letter-spacing="6.5">5500</text><text transform="matrix(0.13515 0 0 0.16857 113.93 151.90)" font-size="100" font-weight="normal" letter-spacing="6.5">5000</text><text transform="matrix(0.13502 0 0 0.16857 114.36 204.10)" font-size="100" font-weight="normal" letter-spacing="5.4">4500</text><text transform="matrix(0.13502 0 0 0.16857 114.36 255.20)" font-size="100" font-weight="normal" letter-spacing="5.4">4000</text><text transform="matrix(0.13502 0 0 0.16857 114.09 307.90)" font-size="100" font-weight="normal" letter-spacing="6.1">3500</text><text transform="matrix(0.13502 0 0 0.16857 114.09 357.80)" font-size="100" font-weight="normal" letter-spacing="6.1">3000</text><text transform="matrix(0.13502 0 0 0.16857 114.64 410.50)" font-size="100" font-weight="normal" letter-spacing="4.8">2500</text><text transform="matrix(0.13491 0 0 0.16857 115.33 462.20)" font-size="100" font-weight="normal" letter-spacing="3.0">2000</text><text transform="matrix(0.13947 0 0 0.17429 72.34 108.30)" font-size="100" font-weight="normal" letter-spacing="1.7">2400</text><text transform="matrix(0.13947 0 0 0.17429 72.34 156.40)" font-size="100" font-weight="normal" letter-spacing="1.7">2200</text><text transform="matrix(0.13947 0 0 0.17429 72.34 202.10)" font-size="100" font-weight="normal" letter-spacing="1.7">2000</text><text transform="matrix(0.13937 0 0 0.17429 71.78 248.30)" font-size="100" font-weight="normal" letter-spacing="0.6">1800</text><text transform="matrix(0.13938 0 0 0.17429 71.08 295.10)" font-size="100" font-weight="normal" letter-spacing="2.3">1600</text><text transform="matrix(0.13947 0 0 0.17429 70.28 343.80)" font-size="100" font-weight="normal" letter-spacing="3.0">1400</text><text transform="matrix(0.13947 0 0 0.17429 70.28 389.90)" font-size="100" font-weight="normal" letter-spacing="3.0">1200</text><text transform="matrix(0.13973 0 0 0.17429 70.28 437.10)" font-size="100" font-weight="normal" letter-spacing="1.8">1000</text><text transform="matrix(0.14495 0 0 0.18143 448.87 100.90)" font-size="100" font-weight="normal" letter-spacing="1.9">80</text><text transform="matrix(0.13889 0 0 0.17429 449.17 151.90)" font-size="100" font-weight="normal" letter-spacing="3.6">60</text><text transform="matrix(0.13894 0 0 0.17429 448.16 205.40)" font-size="100" font-weight="normal" letter-spacing="3.6">40</text><text transform="matrix(0.13694 0 0 0.17429 449.94 255.00)" font-size="100" font-weight="normal">20</text><text transform="matrix(0.13694 0 0 0.17429 489.94 135.20)" font-size="100" font-weight="normal">20</text><text transform="matrix(0.12685 0 0 0.17429 490.42 178.50)" font-size="100" font-weight="normal">15</text><text transform="matrix(0.13945 0 0 0.17429 488.38 222.50)" font-size="100" font-weight="normal" letter-spacing="2.0">10</text><text transform="matrix(0.13519 0 0 0.17429 491.53 265.50)" font-size="100" font-weight="normal">5</text><text transform="matrix(0.14314 0 0 0.17143 147.73 476.70)" font-size="100" font-weight="normal" letter-spacing="2.2">0</text><text transform="matrix(0.13604 0 0 0.17143 185.49 476.70)" font-size="100" font-weight="normal" letter-spacing="3.1">10</text><text transform="matrix(0.13628 0 0 0.17143 226.54 476.70)" font-size="100" font-weight="normal" letter-spacing="1.3">20</text><text transform="matrix(0.13694 0 0 0.17143 268.39 476.70)" font-size="100" font-weight="normal" letter-spacing="3.8">30</text><text transform="matrix(0.13684 0 0 0.17143 308.26 476.70)" font-size="100" font-weight="normal" letter-spacing="4.8">40</text><text transform="matrix(0.13694 0 0 0.17143 348.53 476.70)" font-size="100" font-weight="normal" letter-spacing="2.8">50</text><text transform="matrix(0.13725 0 0 0.17000 147.65 533.60)" font-size="100" font-weight="normal" letter-spacing="0.5">0</text><text transform="matrix(0.13519 0 0 0.17000 205.99 533.60)" font-size="100" font-weight="normal" letter-spacing="0.4">10</text><text transform="matrix(0.13604 0 0 0.17000 267.74 533.60)" font-size="100" font-weight="normal">20</text><text transform="matrix(0.13486 0 0 0.17000 327.70 533.60)" font-size="100" font-weight="normal" letter-spacing="1.1">30</text><text transform="matrix(0.10812 0 0 0.11857 376.38 474.40)" font-size="100" font-weight="normal" stroke="#1a1a1a" stroke-width="1.0">n=1500 мuн<tspan font-size="0.62em" dy="-0.42em">-1</tspan></text><text transform="matrix(0.10575 0 0 0.11857 374.19 529.30)" font-size="100" font-weight="normal" stroke="#1a1a1a" stroke-width="1.0">n=1000 мuн<tspan font-size="0.62em" dy="-0.42em">-1</tspan></text><text transform="matrix(0.12963 0 0 0.16143 306.08 269.30)" font-size="100" font-weight="normal" letter-spacing="13.8">0,8</text><text transform="matrix(0.13952 0 0 0.17429 314.84 320.00)" font-size="100" font-weight="normal" letter-spacing="6.4">0,75</text><text transform="matrix(0.14094 0 0 0.17571 330.94 358.60)" font-size="100" font-weight="normal" letter-spacing="5.7">0,7</text><text transform="matrix(0.12795 0 0 0.16000 339.29 390.80)" font-size="100" font-weight="normal" letter-spacing="12.6">0,65</text><text transform="matrix(0.13544 0 0 0.16857 348.06 426.00)" font-size="100" font-weight="normal" letter-spacing="11.8">0,6</text><text transform="matrix(0.13462 0 0 0.16857 262.86 426.80)" font-size="100" font-weight="normal" letter-spacing="10.4">0,5</text><text transform="matrix(0.15031 0 0 0.17429 284.00 444.90)" font-size="100" font-weight="normal">60<tspan dx="16">°</tspan></text><text transform="matrix(0.14573 0 0 0.16000 327.75 444.90)" font-size="100" font-weight="normal">40<tspan dx="16">°</tspan></text><text transform="matrix(0.13940 0 0 0.17429 370.94 446.00)" font-size="100" font-weight="normal" letter-spacing="3.9">20°θна=0°</text><text transform="matrix(0 -0.12995 0.14429 0 172.30 435.26)" font-size="100" font-weight="normal">n=1500 мuн<tspan font-size="0.62em" dy="-0.42em">-1</tspan></text><text transform="matrix(0 -0.11337 0.13000 0 462.90 432.93)" font-size="100" font-weight="normal">n=1500 мuн<tspan font-size="0.62em" dy="-0.42em">-1</tspan></text><text transform="matrix(0 -0.11244 0.11857 0 501.50 431.02)" font-size="100" font-weight="normal" letter-spacing="0.3" stroke="#1a1a1a" stroke-width="1.0">n=1000 мuн<tspan font-size="0.62em" dy="-0.42em">-1</tspan></text><text transform="matrix(0 -0.08954 0.09429 0 103.10 510.18)" font-size="100" font-weight="normal" letter-spacing="14.1" stroke="#1a1a1a" stroke-width="1.3">n=1000 мuн<tspan font-size="0.62em" dy="-0.42em">-1</tspan></text></g>
</svg>
</body></html>
